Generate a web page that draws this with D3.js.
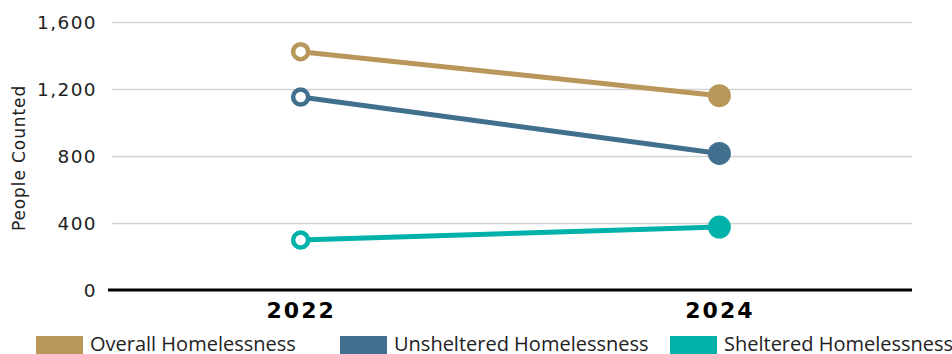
<!DOCTYPE html>
<html><head><meta charset="utf-8">
<script src="https://cdn.jsdelivr.net/npm/d3@7"></script>
<style>
html,body{margin:0;padding:0;background:#fff;}
svg{display:block;}
</style></head>
<body>
<svg id="chart" width="952" height="354"></svg>
<script>
const years = ["2022", "2024"];
const seriesNames = ["Overall Homelessness", "Unsheltered Homelessness", "Sheltered Homelessness"];
const overall = [1423, 1160];
const unsheltered = [1152, 815];
const sheltered = [298, 376];
const yTicks = [0, 400, 800, 1200, 1600];
const colors = ["#b9975b", "#41708f", "#00b2a9"];

const seriesValues = [overall, unsheltered, sheltered];
const svg = d3.select("#chart");
const mLeft = 108, mRight = 912, mTop = 22, mBottom = 290;

const x = d3.scalePoint().domain(years).range([mLeft, mRight]).padding(0.46);
const y = d3.scaleLinear().domain([0, 1600]).range([mBottom, mTop]);

// gridlines
const yAxis = d3.axisLeft(y).tickValues(yTicks).tickSize(0).tickPadding(0)
  .tickFormat(d3.format(","));
const gy = svg.append("g").attr("transform", `translate(${mLeft},0)`).call(yAxis);
gy.select(".domain").remove();
gy.selectAll(".tick text")
  .attr("x", -11)
  .attr("dy", "0.36em")
  .style("font-family", "DejaVu Sans")
  .style("font-size", "18.5px")
  .style("letter-spacing", "1.4px")
  .style("fill", "#222");
gy.selectAll(".tick").filter(d => d !== 0).append("line")
  .attr("x1", 4).attr("x2", mRight - mLeft)
  .attr("stroke", "#d3d3d3").attr("stroke-width", 1.5);

// baseline
svg.append("line").attr("x1", mLeft).attr("x2", mRight)
  .attr("y1", y(0)).attr("y2", y(0))
  .attr("stroke", "#000").attr("stroke-width", 3);

// x axis labels
const xAxis = d3.axisBottom(x).tickSize(0).tickPadding(0);
const gx = svg.append("g").attr("transform", `translate(0,${mBottom})`).call(xAxis);
gx.select(".domain").remove();
gx.selectAll(".tick text")
  .attr("y", 28).attr("dy", 0)
  .style("font-family", "DejaVu Sans")
  .style("font-weight", "bold")
  .style("font-size", "22px")
  .style("letter-spacing", "2px")
  .style("fill", "#000");

// y label
svg.append("text")
  .attr("transform", "translate(25,158) rotate(-90)")
  .attr("text-anchor", "middle")
  .style("font-family", "DejaVu Sans")
  .style("font-size", "17px")
  .style("letter-spacing", "0.9px")
  .style("fill", "#222")
  .text("People Counted");

// lines and markers
const line = d3.line().x((d, i) => x(years[i])).y(d => y(d));
seriesValues.forEach((vals, si) => {
  svg.append("path").datum(vals)
    .attr("d", line)
    .attr("fill", "none")
    .attr("stroke", colors[si])
    .attr("stroke-width", 5);
  svg.append("circle")
    .attr("cx", x(years[0])).attr("cy", y(vals[0]))
    .attr("r", 7.5)
    .attr("fill", "#fff")
    .attr("stroke", colors[si]).attr("stroke-width", 4.5);
  svg.append("circle")
    .attr("cx", x(years[1])).attr("cy", y(vals[1]))
    .attr("r", 11.5)
    .attr("fill", colors[si]);
});

// legend
const legendX = [36, 340, 670];
seriesNames.forEach((name, i) => {
  svg.append("rect").attr("x", legendX[i]).attr("y", 336)
    .attr("width", 47).attr("height", 18).attr("fill", colors[i]);
  svg.append("text").attr("x", legendX[i] + 54).attr("y", 351)
    .style("font-family", "Open Sans")
    .style("font-size", "20px")
    .style("fill", "#222")
    .text(name);
});
</script>
</body></html>
